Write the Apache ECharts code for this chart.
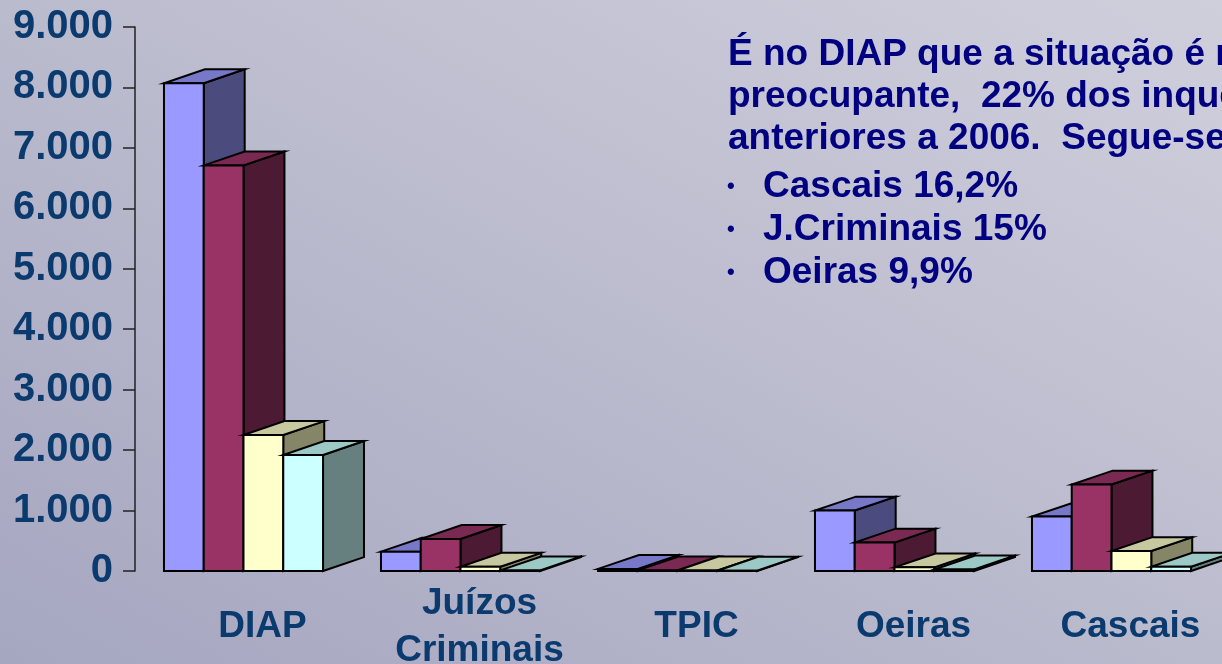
<!DOCTYPE html>
<html lang="pt">
<head>
    <meta charset="utf-8">
    <title>Inquéritos por serviço</title>
    <script src="https://cdn.jsdelivr.net/npm/echarts@6/dist/echarts.min.js"></script>
    <style>
        html, body { margin: 0; padding: 0; }
        #chart {
            width: 1222px; height: 664px;
            background: linear-gradient(to top right, #a5a6c0, #bbbbce 50%, #cfcfdc);
        }
    </style>
</head>
<body>
    <div id="chart"></div>
    <script>
        // dados
        var categorias = ['DIAP', 'Juízos\nCriminais', 'TPIC', 'Oeiras', 'Cascais'];
        var serie1 = [8070, 320, 35, 1000, 900];
        var serie2 = [6710, 530, 10, 470, 1430];
        var serie3 = [2250, 70, 8, 60, 330];
        var serie4 = [1920, 10, 5, 25, 70];
        var ticksY = [0, 1000, 2000, 3000, 4000, 5000, 6000, 7000, 8000, 9000];

        var textoLinhas = [
            'É no DIAP que a situação é mais',
            'preocupante,  22% dos inquéritos são',
            'anteriores a 2006.  Segue-se:'
        ];
        var textoBullets = ['Cascais 16,2%', 'J.Criminais 15%', 'Oeiras 9,9%'];

        // cores: frente, topo, lado
        var cores = [
            ['#9999ff', '#7878c8', '#4b4b7e'],
            ['#993366', '#7a2952', '#4d1a33'],
            ['#ffffcc', '#c8c8a0', '#858568'],
            ['#ccffff', '#9cc8c6', '#668080']
        ];

        function barra3d(idx) {
            var c = cores[idx];
            return function (params, api) {
                var banda = api.size([1, 0])[0];
                var grupo = banda * 0.733;
                var bw = grupo / 4;
                var dx = bw * 1.03, dy = -bw * 0.35;
                var base = api.coord([api.value(0), 0]);
                var topo = api.coord([api.value(0), api.value(1)]);
                var x0 = base[0] - grupo / 2 + idx * bw;
                var x1 = x0 + bw;
                var y0 = topo[1], y1 = base[1];
                var linha = { stroke: '#000', lineWidth: 2, lineJoin: 'miter', miterLimit: 10 };
                return {
                    type: 'group',
                    children: [
                        { type: 'polygon', shape: { points: [[x1, y0], [x1 + dx, y0 + dy], [x1 + dx, y1 + dy], [x1, y1]] },
                          style: Object.assign({ fill: c[2] }, linha) },
                        { type: 'polygon', shape: { points: [[x0, y0], [x1, y0], [x1 + dx, y0 + dy], [x0 + dx, y0 + dy]] },
                          style: Object.assign({ fill: c[1] }, linha) },
                        { type: 'rect', shape: { x: x0, y: y0, width: bw, height: y1 - y0 },
                          style: Object.assign({ fill: c[0] }, linha) }
                    ]
                };
            };
        }

        function dados(arr) {
            return arr.map(function (v, i) { return [i, v]; });
        }

        var fonteTexto = 'bold 37px "Liberation Sans", Arial, sans-serif';
        var sombra = { textShadowColor: 'rgba(20,20,40,0.8)', textShadowOffsetX: 2, textShadowOffsetY: 2 };
        var grafico = [];
        var yLinhas = [56, 98, 140];
        textoLinhas.forEach(function (t, i) {
            grafico.push({
                type: 'text', left: 728, top: yLinhas[i] - 20, silent: true,
                style: Object.assign({ text: t, fill: '#000080', font: fonteTexto }, sombra)
            });
        });
        var yBullets = [188, 231, 274];
        textoBullets.forEach(function (t, i) {
            grafico.push({
                type: 'text', left: 727, top: yBullets[i] - 12, silent: true,
                style: { text: '•', fill: '#000080', font: 'bold 22px "Liberation Sans", Arial, sans-serif',
                         textShadowColor: 'rgba(20,20,40,0.8)', textShadowOffsetX: 1, textShadowOffsetY: 1 }
            });
            grafico.push({
                type: 'text', left: 763, top: yBullets[i] - 20, silent: true,
                style: Object.assign({ text: t, fill: '#000080', font: fonteTexto }, sombra)
            });
        });

        var myChart = echarts.init(document.getElementById('chart'));
        var option = {
            backgroundColor: 'transparent',
            animation: false,
            grid: { left: 135, right: 2, top: 27, bottom: 93, containLabel: false, outerBoundsMode: 'none' },
            xAxis: {
                type: 'category',
                data: categorias,
                axisLine: { show: false },
                axisTick: { show: false },
                splitLine: { show: false },
                axisLabel: {
                    interval: 0,
                    margin: 56,
                    verticalAlign: 'middle',
                    lineHeight: 47,
                    padding: [0, 0, 0, 38],
                    color: '#0b3a6e',
                    fontSize: 37,
                    fontWeight: 'bold',
                    fontFamily: '"Liberation Sans", Arial, sans-serif'
                }
            },
            yAxis: {
                type: 'value',
                min: ticksY[0],
                max: ticksY[ticksY.length - 1],
                interval: 1000,
                axisLine: { show: true, lineStyle: { color: '#222', width: 1.5 } },
                axisTick: { show: true, length: 12, lineStyle: { color: '#222', width: 1.5 } },
                splitLine: { show: false },
                axisLabel: {
                    margin: 22,
                    color: '#0b3a6e',
                    fontSize: 40,
                    fontWeight: 'bold',
                    fontFamily: '"Liberation Sans", Arial, sans-serif',
                    formatter: function (v) {
                        return String(v).replace(/\B(?=(\d{3})+(?!\d))/g, '.');
                    }
                }
            },
            series: [
                { type: 'custom', renderItem: barra3d(0), data: dados(serie1), clip: false },
                { type: 'custom', renderItem: barra3d(1), data: dados(serie2), clip: false },
                { type: 'custom', renderItem: barra3d(2), data: dados(serie3), clip: false },
                { type: 'custom', renderItem: barra3d(3), data: dados(serie4), clip: false }
            ],
            graphic: grafico
        };
        myChart.setOption(option);
    </script>
</body>
</html>
